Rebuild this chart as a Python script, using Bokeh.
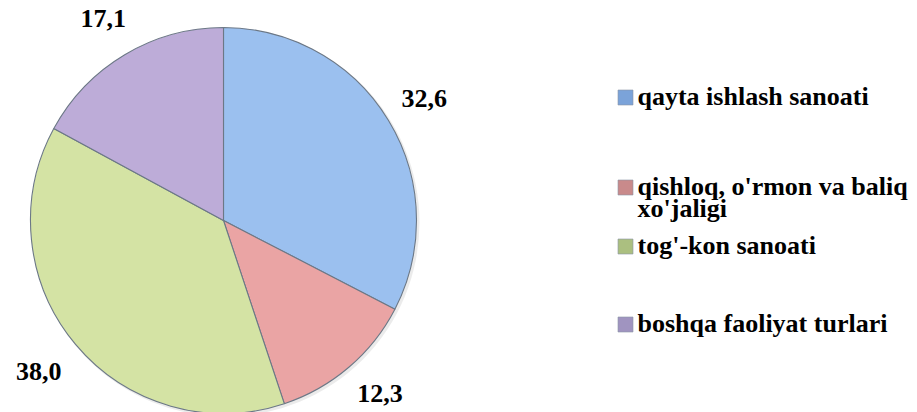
import numpy as np
from bokeh.plotting import figure
from bokeh.models import Range1d, ColumnDataSource
from bokeh.core.properties import value
from bokeh.embed import file_html
from bokeh.resources import INLINE

# ---- data ----
categories = ["qayta ishlash sanoati",
              "qishloq, o'rmon va baliq xo'jaligi",
              "tog'-kon sanoati",
              "boshqa faoliyat turlari"]
legend_lines = [["qayta ishlash sanoati"],
                ["qishloq, o'rmon va baliq", "xo'jaligi"],
                ["tog'-kon sanoati"],
                ["boshqa faoliyat turlari"]]
values = [32.6, 12.3, 38.0, 17.1]
value_labels = ["32,6", "12,3", "38,0", "17,1"]
slice_colors = ["#9BC0EF", "#EAA4A4", "#D4E3A4", "#BDACD8"]
key_colors = ["#7BA3D9", "#C98A8B", "#ABBF80", "#A094C0"]

# ---- layout (page px -> data: x, 412-y) ----
W, H = 917, 412
CX, CY, R = 223, 192, 193
LABEL_R = 235
LABEL_MIN_Y = 19   # keep labels inside the bottom edge
FONT = "Liberation Serif"
FS = 26

p = figure(width=W, height=H, x_range=Range1d(0, W), y_range=Range1d(0, H),
           output_backend="svg", toolbar_location=None, min_border=0)
p.axis.visible = False
p.grid.visible = False
p.outline_line_color = None
p.background_fill_color = "white"

vals = np.array(values, dtype=float)
frac = vals / vals.sum()
cum_end = np.cumsum(frac)
cum_start = cum_end - frac
start = np.pi / 2 - 2 * np.pi * cum_end
end = np.pi / 2 - 2 * np.pi * cum_start
mid = (start + end) / 2

# soft shadow under pie
p.circle(x=[CX + 2], y=[CY - 2], radius=R + 1, fill_color="#000000",
         fill_alpha=0.08, line_color=None)

src = ColumnDataSource(dict(start=start, end=end, color=slice_colors,
                            x=[CX] * len(vals), y=[CY] * len(vals)))
p.wedge(x="x", y="y", radius=R, start_angle="start", end_angle="end",
        fill_color="color", line_color="#6C7886", line_width=1.1, source=src)

# value labels centred on each slice's mid-angle, outside the pie
lab = ColumnDataSource(dict(x=CX + LABEL_R * np.cos(mid) + 6 * np.cos(mid) * (np.sin(mid) < -0.5),
                            y=np.maximum(CY + LABEL_R * np.sin(mid), LABEL_MIN_Y),
                            t=value_labels))
p.text(x="x", y="y", text="t", source=lab, text_align="center",
       text_baseline="middle", text_font=value(FONT),
       text_font_style="bold", text_font_size=f"{FS}px", text_color="black")

# legend (vertical text centres in page px)
item_mid = [96, 186, 245, 323]
key_mid = [97, 187, 246, 324]
line_gap = 22
KX, TX, KS = 625, 637, 15
kx, ky, tx, ty, tt = [], [], [], [], []
for i, lines in enumerate(legend_lines):
    kx.append(KX)
    ky.append(H - key_mid[i])
    for j, ln in enumerate(lines):
        tx.append(TX)
        ty.append(H - item_mid[i] - j * line_gap)
        tt.append(ln)
p.rect(x=kx, y=ky, width=KS, height=KS, fill_color=key_colors,
       line_color="#8A96A4", line_width=0.6)
p.text(x=tx, y=ty, text=tt, text_align="left", text_baseline="middle",
       text_font=value(FONT), text_font_style="bold",
       text_font_size=f"{FS}px", text_color="black")

open("out.html", "w").write(file_html(p, INLINE))
